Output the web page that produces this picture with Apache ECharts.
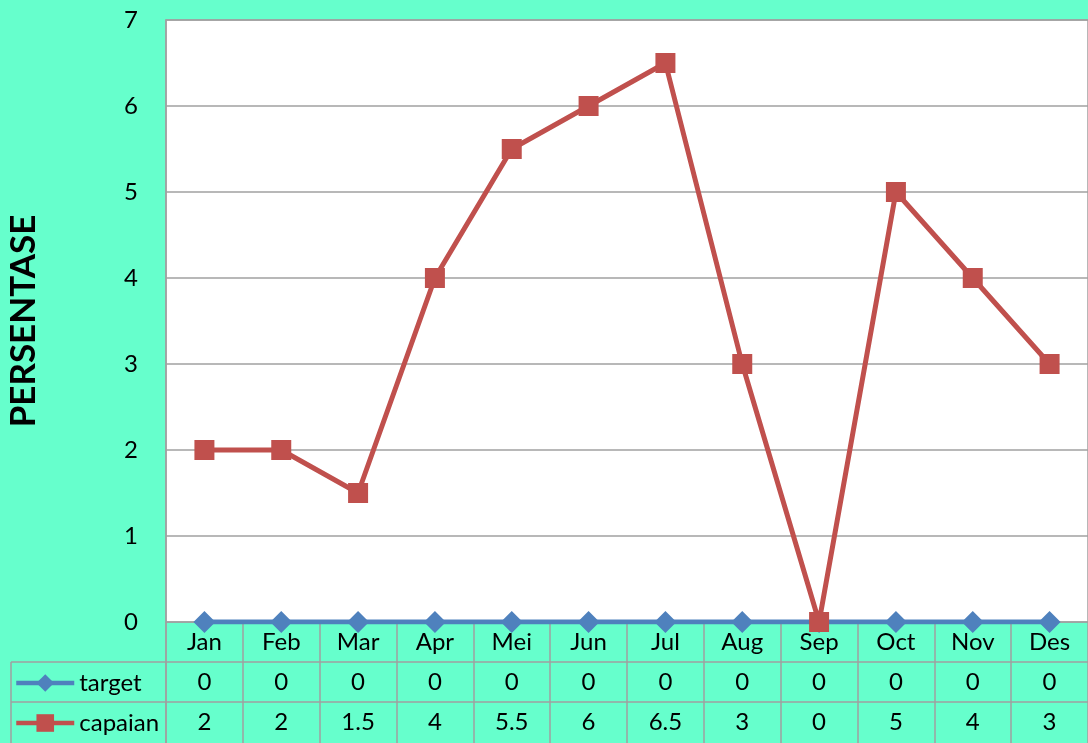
<!DOCTYPE html>
<html>
<head>
<meta charset="utf-8">
<script src="https://cdn.jsdelivr.net/npm/echarts@6/dist/echarts.min.js"></script>
<style>
html, body { margin: 0; padding: 0; background: #66FFCC; }
#chart { width: 1088px; height: 743px; }
</style>
</head>
<body>
<div id="chart"></div>
<script>
var months = ['Jan', 'Feb', 'Mar', 'Apr', 'Mei', 'Jun', 'Jul', 'Aug', 'Sep', 'Oct', 'Nov', 'Des'];
var target = [0, 0, 0, 0, 0, 0, 0, 0, 0, 0, 0, 0];
var capaian = [2, 2, 1.5, 4, 5.5, 6, 6.5, 3, 0, 5, 4, 3];
var yTicks = [0, 1, 2, 3, 4, 5, 6, 7];

var font = 'Lato, "Open Sans", sans-serif';
var gridColor = '#A0A0A0';
var labelSize = 24;

// x axes: month row + two data rows of the table
function tableAxis(offset, values, len) {
    return {
        type: 'category',
        data: months,
        position: 'bottom',
        offset: offset,
        boundaryGap: true,
        axisLine: { show: offset > 0, lineStyle: { color: gridColor, width: 1.5 } },
        axisTick: { show: true, length: len, inside: false, lineStyle: { color: gridColor, width: 1.5 } },
        axisLabel: {
            margin: 8,
            color: '#000',
            fontFamily: font,
            fontSize: labelSize,
            verticalAlign: 'top',
            formatter: function (v, i) { return values ? String(values[i]) : v; }
        },
        splitLine: { show: false }
    };
}

function legendRow(name, top) {
    return {
        orient: 'horizontal',
        left: 14,
        top: top,
        padding: 0,
        itemWidth: 58,
        itemHeight: 22,
        itemGap: 4,
        textStyle: { fontSize: labelSize, color: '#000', fontFamily: font },
        lineStyle: { width: 4.5 },
        data: [name]
    };
}

option = {
    backgroundColor: '#66FFCC',
    textStyle: { fontFamily: font },
    grid: {
        left: 166,
        right: 0,
        top: 20,
        bottom: 121,
        outerBoundsMode: 'none',
        show: true,
        backgroundColor: '#fff',
        borderColor: gridColor,
        borderWidth: 1.5
    },
    legend: [
        legendRow('target', 671),
        legendRow('capaian', 711)
    ],
    xAxis: [
        tableAxis(0, null, 40),
        tableAxis(40, target, 40),
        tableAxis(80, capaian, 42)
    ],
    yAxis: {
        type: 'value',
        min: yTicks[0],
        max: yTicks[yTicks.length - 1],
        interval: 1,
        name: 'PERSENTASE',
        nameLocation: 'middle',
        nameGap: 125,
        nameTextStyle: { fontSize: 35, fontWeight: 'bold', color: '#000', fontFamily: font },
        axisLine: { show: true, lineStyle: { color: gridColor, width: 1.5 } },
        axisTick: { show: false },
        axisLabel: { margin: 28, fontSize: labelSize, color: '#000', fontFamily: font },
        splitLine: { lineStyle: { color: gridColor, width: 1.5 } }
    },
    graphic: [
        // left part of table frame (legend cells)
        { type: 'line', shape: { x1: 11, y1: 662, x2: 166, y2: 662 }, style: { stroke: gridColor, lineWidth: 1.5 } },
        { type: 'line', shape: { x1: 11, y1: 702, x2: 166, y2: 702 }, style: { stroke: gridColor, lineWidth: 1.5 } },
        { type: 'line', shape: { x1: 11, y1: 662, x2: 11, y2: 743 }, style: { stroke: gridColor, lineWidth: 1.5 } },
        { type: 'line', shape: { x1: 166, y1: 622, x2: 166, y2: 743 }, style: { stroke: gridColor, lineWidth: 1.5 } }
    ],
    series: [
        {
            name: 'target',
            type: 'line',
            data: target,
            symbol: 'diamond',
            symbolSize: [22, 22],
            itemStyle: { color: '#4F81BD' },
            lineStyle: { color: '#4F81BD', width: 5 },
            z: 3
        },
        {
            name: 'capaian',
            type: 'line',
            data: capaian,
            symbol: 'rect',
            symbolSize: 20,
            itemStyle: { color: '#C0504D' },
            lineStyle: { color: '#C0504D', width: 5 },
            z: 4
        }
    ]
};

var myChart = echarts.init(document.getElementById('chart'));
myChart.setOption(option);
window.addEventListener('resize', function () {
    myChart.resize();
});
</script>
</body>
</html>
